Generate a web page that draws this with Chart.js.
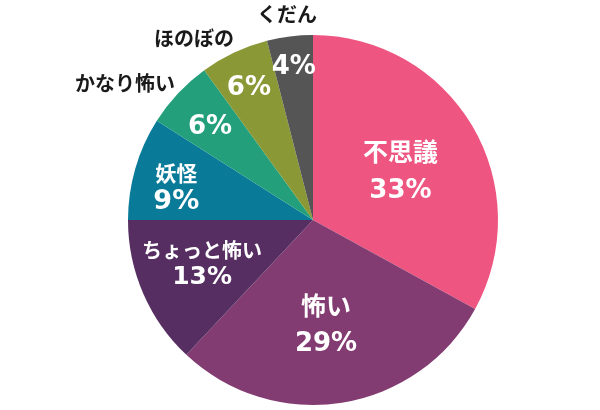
<!DOCTYPE html>
<html>
<head>
<meta charset="utf-8">
<script src="https://cdn.jsdelivr.net/npm/chart.js@4"></script>
<style>
  html, body { margin: 0; padding: 0; background: #fff; }
  #wrap { width: 600px; height: 410px; }
</style>
</head>
<body>
<div id="wrap"><canvas id="chart"></canvas></div>
<script>
// データ
const categories = ["不思議", "怖い", "ちょっと怖い", "妖怪", "かなり怖い", "ほのぼの", "くだん"]
const percents = [33, 29, 13, 9, 6, 6, 4]
const colors = ["#EE5580", "#833C72", "#562E62", "#0A7A99", "#23A07B", "#8A9935", "#555555"]

// ラベル配置 (半径比 f, 角度ずれ da[度]) — 内側は名前と%を縦に並べる
const labelLayout = [
  { inside: true, f: 0.54, da: 1.7, gap: 40, nameSize: 25, pctSize: 26 },
  { inside: true, f: 0.57, da: 1.9, gap: 39, nameSize: 25, pctSize: 26 },
  { inside: true, f: 0.645, da: 1.8, gap: 27, nameSize: 20, pctSize: 25 },
  { inside: true, f: 0.76, da: -2.7, gap: 29, nameSize: 21, pctSize: 27 },
  { inside: false, f: 0.75, da: -1.1, nf: 1.257, nda: -7.1, nameSize: 20, pctSize: 26 },
  { inside: false, f: 0.79, da: -0.8, nf: 1.175, nda: -8, nameSize: 20, pctSize: 26 },
  { inside: false, f: 0.83, da: 0, nf: 1.12, nda: 0, nameSize: 20, pctSize: 26 },
]

const NAME_FONT = '"Noto Sans CJK JP", "Noto Sans", sans-serif'
const PCT_FONT = '"DejaVu Sans", "Noto Sans", sans-serif'

const sliceLabels = {
  id: "sliceLabels",
  afterDatasetsDraw(chart) {
    const ctx = chart.ctx
    const meta = chart.getDatasetMeta(0)
    ctx.save()
    ctx.textAlign = "center"
    ctx.textBaseline = "middle"
    meta.data.forEach((arc, i) => {
      const p = arc.getProps(["x", "y", "startAngle", "endAngle", "outerRadius"], true)
      const mid = (p.startAngle + p.endAngle) / 2
      const L = labelLayout[i]
      const at = (f, da) => {
        const a = mid + (da * Math.PI) / 180
        return { x: p.x + Math.cos(a) * p.outerRadius * f, y: p.y + Math.sin(a) * p.outerRadius * f }
      }
      const pctText = percents[i] + "%"
      const pt = at(L.f, L.da)
      if (L.inside) {
        ctx.fillStyle = "#ffffff"
        ctx.font = `bold ${L.nameSize}px ${NAME_FONT}`
        ctx.fillText(categories[i], pt.x, pt.y - L.gap / 2)
        ctx.font = `bold ${L.pctSize}px ${PCT_FONT}`
        ctx.fillText(pctText, pt.x, pt.y + L.gap / 2)
      } else {
        ctx.fillStyle = "#ffffff"
        ctx.font = `bold ${L.pctSize}px ${PCT_FONT}`
        ctx.fillText(pctText, pt.x, pt.y)
        const np = at(L.nf, L.nda)
        ctx.fillStyle = "#1a1a1a"
        ctx.font = `bold ${L.nameSize}px ${NAME_FONT}`
        ctx.fillText(categories[i], np.x, np.y)
      }
    })
    ctx.restore()
  },
}

new Chart(document.getElementById("chart"), {
  type: "pie",
  data: {
    labels: categories,
    datasets: [
      {
        data: percents,
        backgroundColor: colors,
        borderWidth: 0,
      },
    ],
  },
  options: {
    responsive: true,
    maintainAspectRatio: false,
    animation: false,
    layout: { padding: { left: 128, right: 102, top: 35, bottom: 5 } },
    plugins: {
      legend: { display: false },
      tooltip: { enabled: false },
    },
  },
  plugins: [sliceLabels],
})
</script>
</body>
</html>
